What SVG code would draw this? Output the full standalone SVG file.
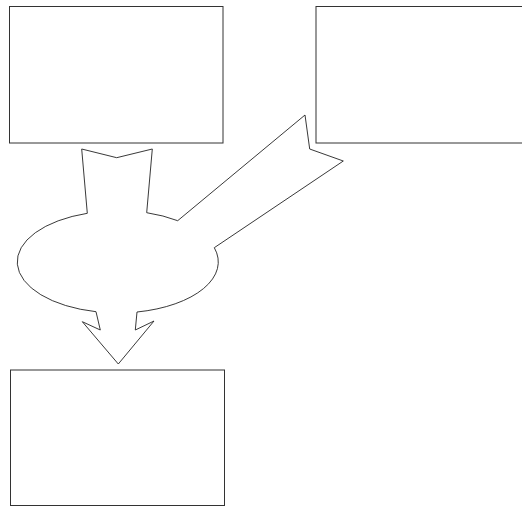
<svg xmlns="http://www.w3.org/2000/svg" width="522" height="506" viewBox="0 0 522 506">
<style>
.box{fill:#fff;stroke:#333;stroke-width:1}
.flow{fill:#fff;stroke:#222;stroke-width:0.9;stroke-linejoin:miter}
</style>
<rect width="522" height="506" fill="#fff"/>
<g id="node-top-left"><rect class="box" x="9.5" y="6.5" width="213.5" height="136.5"/></g>
<g id="node-top-right"><rect class="box" x="316" y="6.5" width="220" height="136.5"/></g>
<g id="node-bottom"><rect class="box" x="10.5" y="370" width="214" height="135.5"/></g>
<g id="connectors">
<path class="flow" d="M 87.3,213.3 L 81.7,149 L 116.7,157.7 L 152.3,149 L 146.7,212.7 A 100.5 51 0 0 1 177.7,220.7 L 305,115 L 309.7,149 L 343.3,161 L 214.3,247.7 A 100.5 51 0 0 1 137,312 L 135.3,330 L 154,321 L 118.3,364 L 82.3,321.7 L 100.3,330 L 96,311.7 A 100.5 51 0 0 1 87.3,213.3 Z"/>
</g>
</svg>
